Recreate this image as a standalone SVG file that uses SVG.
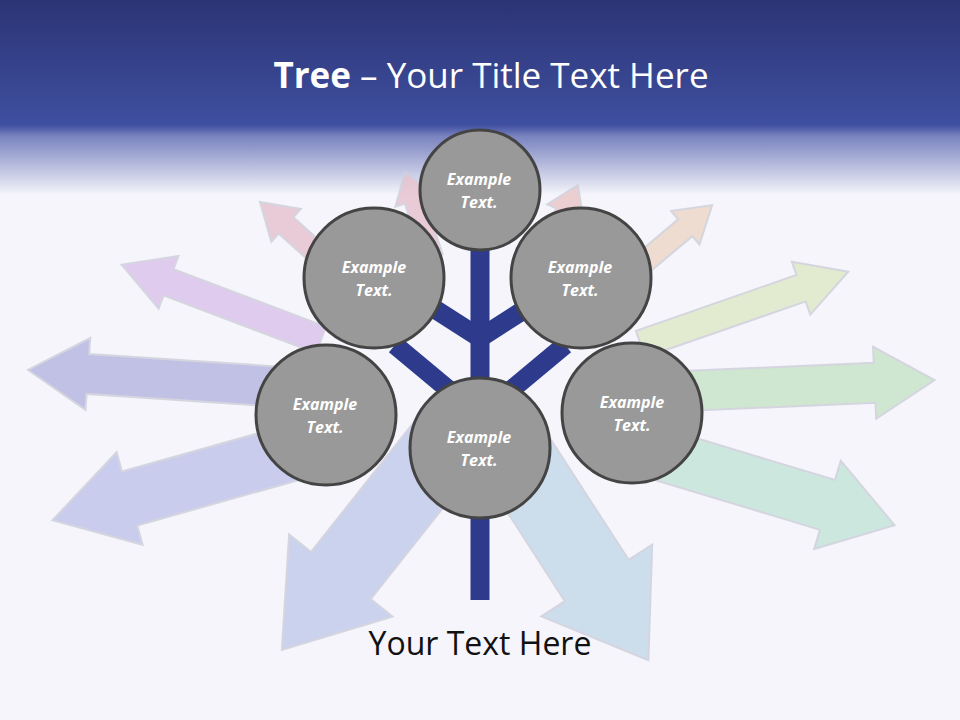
<svg xmlns="http://www.w3.org/2000/svg" width="960" height="720" viewBox="0 0 960 720">
<defs>
<linearGradient id="hdr" x1="0" y1="0" x2="0" y2="1">
<stop offset="0" stop-color="#2b3474"/><stop offset="0.64" stop-color="#3f4fa0"/><stop offset="0.7" stop-color="#7a84c0"/><stop offset="1" stop-color="#f5f5fb"/>
</linearGradient>
<style>
.ar{stroke:#d0d0dc;stroke-width:2;opacity:0.85}
.nd circle{fill:#999999;stroke:#444444;stroke-width:3}
.nd text{fill:#ffffff;font-family:"Open Sans","DejaVu Sans",sans-serif;font-weight:bold;font-style:italic;font-size:16px;text-anchor:middle}
.br{stroke:#2e3a8c;stroke-width:19;stroke-linecap:butt;fill:none}
</style>
</defs>
<rect width="960" height="720" fill="#f5f5fb"/>
<rect width="960" height="195" fill="url(#hdr)"/>
<text x="491" y="88" text-anchor="middle" font-family="'Open Sans','DejaVu Sans',sans-serif" font-size="35" fill="#ffffff"><tspan font-weight="bold">Tree</tspan> – Your Title Text Here</text>
<g id="arrows">
<polygon class="ar" fill="#b8b8e2" transform="translate(480,400) rotate(183.8)" points="170,-20 393,-20 393,-36 453,0 393,36 393,20 170,20"/>
<polygon class="ar" fill="#dcc4ec" transform="translate(480,400) rotate(200.7)" points="170,-14 333,-14 333,-28 383,0 333,28 333,14 170,14"/>
<polygon class="ar" fill="#e6c4d0" transform="translate(480,400) rotate(222)" points="170,-11 261,-11 261,-22 296,0 261,22 261,11 170,11"/>
<polygon class="ar" fill="#e6c4d0" transform="translate(480,400) rotate(251.8)" points="150,-10 210,-10 210,-20 240,0 210,20 210,10 150,10"/>
<polygon class="ar" fill="#eac8c8" transform="translate(480,400) rotate(294.5)" points="150,-10 206,-10 206,-20 236,0 206,20 206,10 150,10"/>
<polygon class="ar" fill="#ecd8c8" transform="translate(480,400) rotate(-40)" points="170,-11 268,-11 268,-22 303,0 268,22 268,11 170,11"/>
<polygon class="ar" fill="#dfe9c9" transform="translate(480,400) rotate(-19.2)" points="170,-14 340,-14 340,-28 390,0 340,28 340,14 170,14"/>
<polygon class="ar" fill="#c9e5c9" transform="translate(480,400) rotate(-2.5)" points="170,-20 395,-20 395,-36 455,0 395,36 395,20 170,20"/>
<polygon class="ar" fill="#c6e6da" transform="translate(480,400) rotate(16.8)" points="170,-26 363,-26 363,-46 433,0 363,46 363,26 170,26"/>
<polygon class="ar" fill="#c6d9ea" transform="translate(480,400) rotate(57.1)" points="60,-38 215,-38 215,-66 310,0 215,66 215,38 60,38"/>
<polygon class="ar" fill="#c4cceb" transform="translate(480,400) rotate(128.4)" points="60,-38 224,-38 224,-66 319,0 224,66 224,38 60,38"/>
<polygon class="ar" fill="#c2c6ea" transform="translate(480,400) rotate(164.3)" points="170,-28 364,-28 364,-48 444,0 364,48 364,28 170,28"/>
</g>
<g id="connectors">
<line class="br" x1="480" y1="240" x2="480" y2="600"/>
<line class="br" x1="480" y1="338" x2="430" y2="306"/>
<line class="br" x1="480" y1="338" x2="530" y2="306"/>
<line class="br" x1="455" y1="395" x2="395" y2="345"/>
<line class="br" x1="505" y1="395" x2="565" y2="345"/>
</g>
<g id="n1" class="nd"><circle cx="480" cy="190" r="60"/><text x="479" y="185">Example</text><text x="479" y="208">Text.</text></g>
<g id="n2" class="nd"><circle cx="374" cy="278" r="70"/><text x="374" y="273">Example</text><text x="374" y="296">Text.</text></g>
<g id="n3" class="nd"><circle cx="581" cy="278" r="70"/><text x="580" y="273">Example</text><text x="580" y="296">Text.</text></g>
<g id="n4" class="nd"><circle cx="326" cy="415" r="70"/><text x="325" y="410">Example</text><text x="325" y="433">Text.</text></g>
<g id="n5" class="nd"><circle cx="480" cy="448" r="70"/><text x="479" y="443">Example</text><text x="479" y="466">Text.</text></g>
<g id="n6" class="nd"><circle cx="632" cy="413" r="70"/><text x="632" y="408">Example</text><text x="632" y="431">Text.</text></g>
<text x="480" y="655" text-anchor="middle" font-family="'Open Sans','DejaVu Sans',sans-serif" font-size="32" fill="#111111">Your Text Here</text>
</svg>
